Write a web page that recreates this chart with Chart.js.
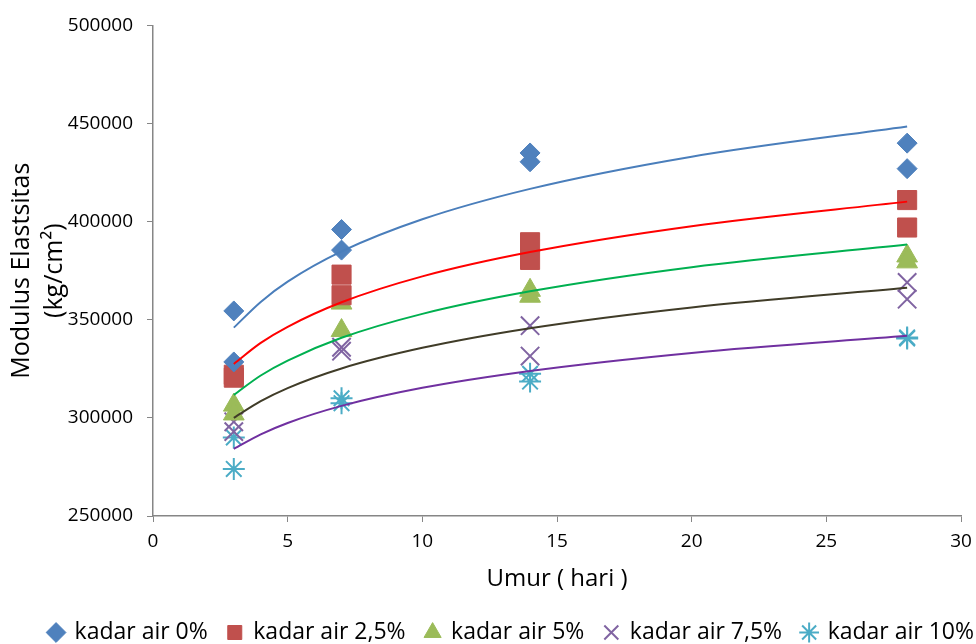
<!DOCTYPE html>
<html>
<head>
<meta charset="utf-8">
<script src="https://cdn.jsdelivr.net/npm/chart.js@4.4.0/dist/chart.umd.min.js"></script>
<style>
  html, body { margin: 0; padding: 0; background: #ffffff; }
</style>
</head>
<body>
<canvas id="chart" width="976" height="644"></canvas>
<script>
// umur benda uji (hari), dua benda uji per umur
const dayX = [3, 3, 7, 7, 14, 14, 28, 28];

const seriesNames = ['kadar air 0%', 'kadar air 2,5%', 'kadar air 5%', 'kadar air 7,5%', 'kadar air 10%'];

// modulus elastisitas hasil uji (kg/cm2)
const air0 = [354500, 328500, 396000, 385500, 435000, 430500, 440000, 427000];
const air25 = [322000, 320500, 373000, 362500, 389500, 380500, 411000, 397000];
const air5 = [306500, 302000, 358500, 344500, 365000, 362000, 382500, 379500];
const air75 = [298000, 293000, 336000, 334000, 347000, 331500, 369000, 360500];
const air10 = [290000, 274000, 310000, 307500, 322500, 318500, 341000, 340500];

// garis trendline (logaritmik)
const trendX = [3, 4, 5, 7, 10, 14, 20, 28];
const trend0 = [346000, 359100, 369400, 384800, 401200, 416700, 433100, 448500];
const trend25 = [327500, 338200, 346400, 358900, 372100, 384500, 397700, 410200];
const trend5 = [311700, 321600, 329200, 340800, 353000, 364500, 376800, 388300];
const trend75 = [300000, 308500, 315200, 325200, 335700, 345700, 356300, 366300];
const trend10 = [284200, 291600, 297400, 306100, 315300, 323900, 333100, 341800];

const yTicks = [250000, 300000, 350000, 400000, 450000, 500000];
const xTicks = [0, 5, 10, 15, 20, 25, 30];

const FONT = "'Open Sans', 'DejaVu Sans', sans-serif";

function toPoints(xs, ys) {
    return ys.map((y, i) => ({ x: xs[i], y: y }));
}

const markerStyle = [
    { pointStyle: 'rectRot', color: '#4F81BD', radius: 10, width: 1 },
    { pointStyle: 'rect', color: '#C0504D', radius: 13.5, width: 1 },
    { pointStyle: 'triangle', color: '#9BBB59', radius: 12, width: 1 },
    { pointStyle: 'crossRot', color: '#8064A2', radius: 13, width: 2 },
    { pointStyle: 'star', color: '#4BACC6', radius: 11, width: 2 }
];
const trendColors = ['#4A7EBB', '#FF0000', '#00B050', '#403C28', '#7030A0'];

const measured = [air0, air25, air5, air75, air10];
const trends = [trend0, trend25, trend5, trend75, trend10];

const datasets = [];
measured.forEach((vals, i) => {
    const m = markerStyle[i];
    datasets.push({
        label: seriesNames[i],
        data: toPoints(dayX, vals),
        showLine: false,
        pointStyle: m.pointStyle,
        pointRadius: m.radius,
        pointHoverRadius: m.radius,
        backgroundColor: m.color,
        borderColor: m.color,
        pointBorderWidth: m.width,
        order: 1
    });
});
trends.forEach((vals, i) => {
    datasets.push({
        label: 'trend ' + seriesNames[i],
        data: toPoints(trendX, vals),
        showLine: true,
        pointRadius: 0,
        borderColor: trendColors[i],
        borderWidth: 2,
        cubicInterpolationMode: 'monotone',
        fill: false,
        order: 0
    });
});

// geser legenda sedikit ke kanan seperti pada gambar asli
const legendShift = {
    id: 'legendShift',
    afterLayout(chart) {
        chart.legend.left += 18;
        chart.legend.right += 18;
    }
};

new Chart(document.getElementById('chart').getContext('2d'), {
    type: 'scatter',
    data: { datasets: datasets },
    plugins: [legendShift],
    options: {
        responsive: false,
        animation: false,
        devicePixelRatio: 1,
        layout: { padding: { top: 14, right: 0, left: 0, bottom: -10 } },
        plugins: {
            tooltip: { enabled: false },
            legend: {
                position: 'bottom',
                align: 'end',
                labels: {
                    usePointStyle: true,
                    boxWidth: 14,
                    boxHeight: 14,
                    padding: 20,
                    color: '#000000',
                    font: { family: FONT, size: 23 },
                    filter: item => item.datasetIndex < 5
                }
            }
        },
        scales: {
            x: {
                type: 'linear',
                min: 0,
                max: 30,
                afterBuildTicks: scale => { scale.ticks = xTicks.map(v => ({ value: v })); },
                afterFit: scale => { scale.height = 85; scale.paddingRight = 14; },
                ticks: { color: '#000000', font: { family: FONT, size: 19 }, padding: 8 },
                grid: { display: true, drawOnChartArea: false, drawTicks: true, tickLength: 6, color: '#868686' },
                border: { color: '#868686', width: 1.5 },
                title: { display: true, text: 'Umur ( hari )', color: '#000000', font: { family: FONT, size: 24 }, padding: { top: 4, bottom: 7 } }
            },
            y: {
                type: 'linear',
                min: 250000,
                max: 500000,
                afterBuildTicks: scale => { scale.ticks = yTicks.map(v => ({ value: v })); },
                afterFit: scale => { scale.width = 153; },
                ticks: { color: '#000000', font: { family: FONT, size: 19 }, padding: 14, callback: v => String(v) },
                grid: { display: true, drawOnChartArea: false, drawTicks: true, tickLength: 6, color: '#868686' },
                border: { color: '#868686', width: 1.5 },
                title: { display: true, text: ['Modulus Elastsitas', '(kg/cm\u00B2)'], color: '#000000', font: { family: FONT, size: 25, lineHeight: 1.3 }, padding: { top: 6, bottom: 4 } }
            }
        }
    }
});
</script>
</body>
</html>
